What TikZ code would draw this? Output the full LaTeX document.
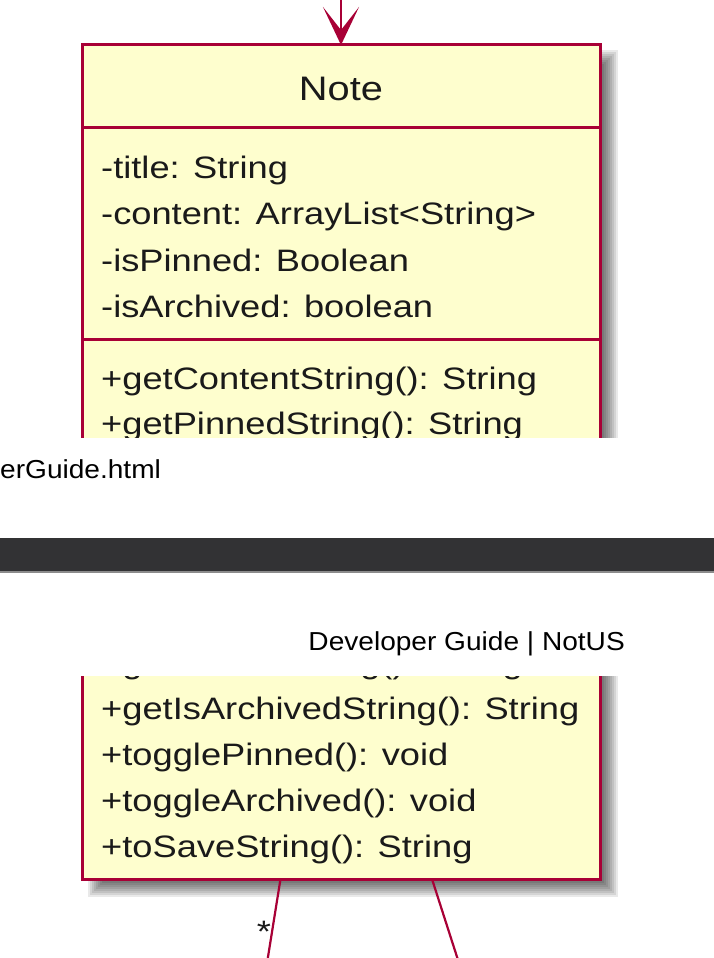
\documentclass[tikz,border=0pt]{standalone}
\usepackage{fontspec}
\setmainfont{Liberation Sans}
\newfontfamily\umlfont[FakeStretch=1.17]{Liberation Sans}
\newfontfamily\pagefont[FakeStretch=1.08]{Liberation Sans}
\usetikzlibrary{arrows.meta}
\definecolor{umlfill}{HTML}{FEFECE}
\definecolor{umlline}{HTML}{A80036}
\definecolor{umltext}{HTML}{1A1A1A}
\definecolor{barcol}{HTML}{323234}
\definecolor{barline}{HTML}{8C8C8C}
\tikzset{
  classbox/.style={fill=umlfill, draw=umlline, line width=3pt},
  divider/.style={draw=umlline, line width=3pt},
  member/.style={anchor=base west, inner sep=0pt, text=umltext,
    font=\umlfont\fontsize{31}{37}\selectfont},
  classname/.style={anchor=base, inner sep=0pt, text=umltext,
    font=\umlfont\fontsize{34}{40}\selectfont},
  mult/.style={anchor=base, inner sep=0pt, text=umltext,
    font=\umlfont\fontsize{31}{37}\selectfont},
  pagetext/.style={inner sep=0pt, text=black,
    font=\pagefont\fontsize{26}{30}\selectfont},
  conn/.style={draw=umlline, line width=2.2pt},
  shadowlayer/.style={fill=black, opacity=0.085}
}
\begin{document}
\begin{tikzpicture}[x=1pt,y=-1pt]
\useasboundingbox (0,0) rectangle (714,958);
\fill[white] (0,0) rectangle (714,958);

% ---------- top part of the page ----------
\begin{scope}
  \clip (0,0) rectangle (714,437);
  \foreach \e in {-6,-4,...,8}
    \fill[shadowlayer] (96-\e,58-\e) rectangle (610+\e,1000);
  \draw[classbox] (82,45) rectangle (600,1000);
  \draw[divider] (82,127) -- (600,127);
  \draw[divider] (82,339) -- (600,339);
  \node[classname] (notename) at (341,100) {Note};
  \node[member] (atitle) at (101,178) {-title: String};
  \node[member] (acontent) at (101,224.5) {-content: ArrayList<String>};
  \node[member] (apinned) at (101,271) {-isPinned: Boolean};
  \node[member] (aarchived) at (101,317) {-isArchived: boolean};
  \node[member] (mcontent) at (101,389) {+getContentString(): String};
  \node[member, text depth=0pt] (mpinned) at (101,434.5) {+getPinnedString(): String};
  \coordinate (notetop) at (341,45);
  \coordinate (arrowsrc) at (341,-10);
  \draw[conn, -{Stealth[length=38pt, width=36pt, inset=23pt]}] (arrowsrc) -- (notetop);
\end{scope}

% ---------- page footer / header ----------
\node[pagetext, anchor=base west] (footer) at (0,478) {erGuide.html};
\fill[barcol] (0,538) rectangle (714,571);
\fill[barline] (0,571) rectangle (714,572.5);
\node[pagetext, anchor=base east] (header) at (625,650) {Developer Guide | NotUS};

% ---------- bottom part of the page ----------
\begin{scope}
  \clip (0,676) rectangle (714,958);
  \foreach \e in {-6,-4,...,8}
    \fill[shadowlayer] (96-\e,500) rectangle (610+\e,889+\e);
  \draw[classbox] (82,560) rectangle (600,879);
  \node[member, text height=0pt] (mpinnedb) at (101,673) {+getPinnedString(): String};
  \node[member] (marchived) at (101,719) {+getIsArchivedString(): String};
  \node[member] (mtogglep) at (101,765) {+togglePinned(): void};
  \node[member] (mtogglea) at (101,811) {+toggleArchived(): void};
  \node[member] (msave) at (101,857) {+toSaveString(): String};
  \coordinate (linkAstart) at (280.5,879);
  \coordinate (linkAend) at (267.5,960);
  \coordinate (linkBstart) at (432,879);
  \coordinate (linkBend) at (458,960);
  \draw[conn] (linkAstart) -- (linkAend);
  \draw[conn] (linkBstart) -- (linkBend);
  \node[mult] (star) at (264,942) {*};
\end{scope}
\end{tikzpicture}
\end{document}
